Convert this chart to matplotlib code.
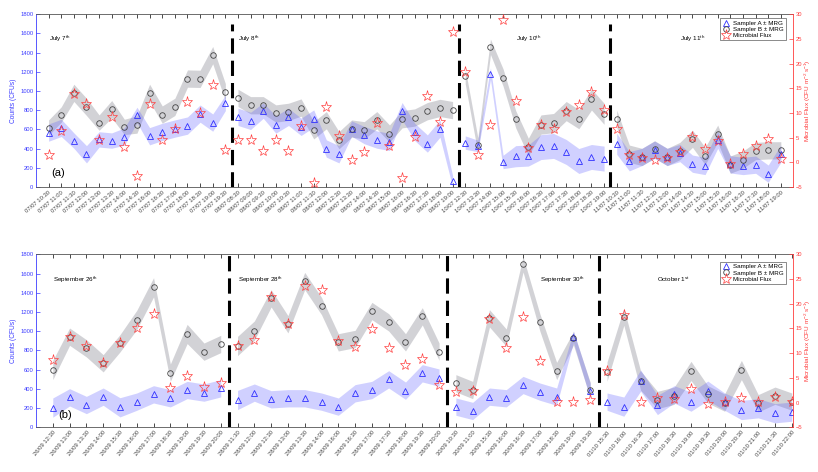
import numpy as np
import matplotlib.pyplot as plt
from matplotlib.lines import Line2D

plt.rcParams['font.family'] = ['Liberation Sans', 'DejaVu Sans']
plt.rcParams['mathtext.default'] = 'regular'

BLUE = '#3c3cff'
RED = '#ff3c3c'

# ---- panel (a): July campaign ----
dates_a = ['07/07', '08/07', '10/07', '11/07']
times_a = [
    ['10:30', '11:00', '11:30', '12:00', '13:00', '13:30', '14:00', '14:30', '16:00', '16:30',
     '17:00', '18:00', '18:30', '19:00', '19:30'],
    ['08:30', '09:00', '09:30', '10:00', '10:30', '11:00', '11:30', '12:00', '12:30', '13:30',
     '14:00', '14:30', '15:00', '16:00', '16:30', '17:30', '18:00', '19:00'],
    ['12:30', '13:30', '14:00', '15:00', '15:30', '16:00', '16:30', '17:00', '17:30', '18:00',
     '18:30', '19:00'],
    ['10:30', '11:00', '11:30', '12:30', '13:00', '14:00', '14:30', '15:00', '15:30', '16:00',
     '16:30', '17:30', '18:00', '19:00'],
]
day_names_a = ['July 7$^{th}$', 'July 8$^{th}$', 'July 10$^{th}$', 'July 11$^{th}$']

sampler_a_a = [566, 615, 483, 340, 495, 483, 525, 750, 528, 573, 608, 639, 764, 670, 875,
               730, 688, 795, 650, 730, 626, 712, 400, 340, 608, 540, 493, 469, 789, 573, 452, 608, 59,
               462, 427, 1180, 260, 320, 327, 415, 427, 364, 270, 312, 295,
               450, 267, 312, 388, 312, 353, 242, 218, 492, 235, 218, 232, 138, 346]
mrg_a_a = [90, 90, 80, 90, 80, 80, 90, 80, 90, 90, 90, 90, 90, 90, 80,
           90, 90, 80, 90, 90, 90, 90, 90, 90, 80, 90, 90, 90, 90, 90, 90, 90, 60,
           70, 60, 60, 70, 110, 110, 130, 130, 130, 130, 130, 130,
           110, 100, 90, 90, 90, 90, 90, 90, 90, 90, 90, 90, 90, 90]
sampler_b_a = [618, 754, 980, 834, 670, 810, 625, 650, 980, 754, 834, 1129, 1126, 1373, 987,
               928, 851, 851, 765, 782, 827, 590, 695, 487, 608, 590, 695, 556, 705, 723, 789, 823, 800,
               1154, 434, 1460, 1140, 705, 417, 650, 665, 790, 706, 911, 762,
               710, 346, 312, 391, 312, 374, 502, 322, 554, 232, 284, 374, 381, 381]
mrg_b_a = [80, 80, 90, 90, 80, 90, 80, 90, 90, 90, 90, 90, 90, 90, 90,
           90, 90, 90, 90, 90, 90, 90, 90, 90, 90, 90, 90, 90, 90, 90, 90, 90, 90,
           80, 80, 80, 90, 90, 90, 100, 100, 100, 100, 110, 110,
           90, 90, 90, 90, 90, 90, 90, 90, 90, 90, 90, 90, 90, 90]
flux_a = [1.55, 6.3, 13.9, 11.7, 4.6, 9.2, 3.1, -2.8, 11.7, 4.6, 6.8, 12.2, 9.9, 15.6, 2.4,
          4.6, 4.6, 2.3, 4.5, 2.3, 7.3, -4.2, 11.1, 5.3, 0.5, 2.0, 8.0, 3.2, -3.1, 5.1, 13.4, 8.2, 26.4,
          18.3, 1.55, 7.5, 28.8, 12.4, 2.8, 7.6, 6.8, 10.2, 11.6, 14.2, 10.5,
          6.8, 1.4, 0.85, 0.4, 0.85, 2.1, 5.2, 2.7, 4.4, -0.4, 1.6, 3.2, 4.8, 0.7]

# ---- panel (b): September / October campaign ----
dates_b = ['26/09', '28/09', '30/09', '01/10']
times_b = [
    ['12:30', '13:00', '13:30', '14:00', '15:30', '16:00', '17:00', '18:30', '19:00', '19:30', '20:00'],
    ['11:30', '12:00', '12:30', '13:00', '13:30', '14:00', '16:00', '16:30', '17:00', '17:30',
     '18:00', '19:30', '20:00'],
    ['10:30', '11:00', '15:30', '16:00', '16:30', '17:00', '18:30', '19:00', '19:30'],
    ['15:30', '16:00', '16:30', '17:00', '18:30', '19:00', '19:30', '20:00', '20:30', '21:00',
     '21:30', '22:00'],
]
day_names_b = ['September 26$^{th}$', 'September 28$^{th}$', 'September 30$^{th}$', 'October 1$^{st}$']

sampler_a_b = [205, 312, 232, 319, 208, 267, 343, 302, 388, 361, 406,
               284, 361, 291, 302, 302, 267, 215, 354, 388, 499, 381, 562, 517,
               215, 170, 319, 302, 440, 371, 319, 943, 378,
               267, 215, 486, 232, 343, 267, 381, 267, 180, 198, 146, 163]
mrg_a_b = [100, 90, 90, 90, 100, 90, 90, 90, 90, 90, 90,
           100, 90, 90, 90, 90, 90, 90, 90, 90, 90, 90, 90, 90,
           90, 90, 90, 90, 90, 90, 90, 60, 80,
           90, 100, 110, 100, 90, 100, 100, 90, 100, 100, 100, 100]
sampler_b_b = [596, 943, 822, 666, 874, 1117, 1457, 569, 971, 787, 867,
               846, 1006, 1342, 1072, 1522, 1262, 884, 919, 1210, 1092, 884, 1155, 787,
               458, 388, 1134, 933, 1696, 1092, 586, 926, 388,
               579, 1151, 486, 284, 329, 586, 343, 257, 596, 250, 329, 267]
mrg_b_b = [100, 90, 90, 90, 90, 100, 100, 90, 100, 90, 90,
           100, 100, 90, 90, 90, 90, 90, 90, 90, 90, 90, 90, 90,
           90, 90, 90, 90, 80, 90, 90, 70, 80,
           100, 90, 100, 90, 90, 100, 90, 90, 100, 90, 90, 90]
flux_b = [8.7, 13.3, 11.4, 8.0, 12.0, 15.0, 17.9, 2.9, 5.4, 3.2, 4.0,
          11.5, 12.7, 21.4, 15.8, 23.5, 22.8, 12.5, 11.3, 14.8, 11.0, 7.6, 8.8, 3.6,
          2.2, 2.4, 17.0, 11.0, 17.4, 8.5, 0.2, 0.2, 0.5,
          6.3, 17.7, 0.2, 0.9, 0.7, 2.8, -0.35, 0.2, 0.9, 0.2, 1.2, 0.2]


def draw_panel(ax, dates, times, a, a_mrg, b, b_mrg, flux, day_names, name_x, name_y,
               letter, letter_xy, xmax, rot, vline_top, legend_y):
    a = np.array(a, float)
    b = np.array(b, float)
    a_mrg = np.array(a_mrg, float)
    b_mrg = np.array(b_mrg, float)
    n = len(a)
    x = np.arange(1, n + 1)
    sizes = [len(t) for t in times]
    edges = np.cumsum([0] + sizes)

    # bands are drawn per day, they do not join across days
    for i in range(len(sizes)):
        s = slice(edges[i], edges[i + 1])
        ax.fill_between(x[s], b[s] - b_mrg[s], b[s] + b_mrg[s],
                        color=(0.5, 0.5, 0.55), alpha=0.35, lw=0)
        ax.fill_between(x[s], a[s] - a_mrg[s], a[s] + a_mrg[s],
                        color=(0.35, 0.35, 1.0), alpha=0.28, lw=0)

    ax.plot(x, a, ls='none', marker='^', ms=4.2, mfc='none', mec='#3030ff', mew=0.6, zorder=3)
    ax.plot(x, b, ls='none', marker='o', ms=4.0, mfc='none', mec='#444444', mew=0.6, zorder=3)

    for e in edges[1:-1]:
        ax.vlines(e + 0.5, 0, vline_top, colors='k', lw=2.2, linestyles=(0, (5, 2.3)), zorder=4)

    ax.set_xlim(0, xmax)
    ax.set_ylim(0, 1800)
    ax.set_yticks(range(0, 1801, 200))
    labels = [d + ' ' + t for d, tt in zip(dates, times) for t in tt]
    ax.set_xticks(x)
    ax.set_xticklabels(labels, rotation=rot, ha='right', rotation_mode='anchor',
                       fontsize=4.2, color='#444444')
    ax.tick_params(axis='x', direction='in', top=True, length=3, width=0.5, pad=2)
    ax.tick_params(axis='y', direction='in', length=3, width=0.5, labelsize=4.2,
                   colors=BLUE, pad=2)
    ax.set_ylabel('Counts (CFUs)', color=BLUE, fontsize=4.8, labelpad=2)
    for sp in ['top', 'bottom']:
        ax.spines[sp].set_color('#555555')
        ax.spines[sp].set_linewidth(0.6)
    ax.spines['left'].set_color(BLUE)
    ax.spines['left'].set_linewidth(0.6)
    ax.spines['right'].set_visible(False)

    for nm, nx in zip(day_names, name_x):
        ax.text(nx, name_y, nm, fontsize=4.5, va='center', ha='left')
    ax.text(letter_xy[0], letter_xy[1], letter, fontsize=8, va='center', ha='left')

    ax2 = ax.twinx()
    ax2.plot(x, flux, ls='none', marker='*', ms=8, mfc='none', mec='#ff4040', mew=0.5, zorder=5)
    ax2.set_ylim(-5, 30)
    ax2.set_yticks(range(-5, 31, 5))
    ax2.tick_params(axis='y', direction='in', length=3, width=0.5, labelsize=4.2,
                    colors=RED, pad=1.5)
    ax2.set_ylabel('Microbial Flux (CFU m$^{-2}$ s$^{-1}$)', color=RED, fontsize=4.6, labelpad=0.5)
    for sp in ['top', 'bottom', 'left']:
        ax2.spines[sp].set_visible(False)
    ax2.spines['right'].set_color(RED)
    ax2.spines['right'].set_linewidth(0.6)

    handles = [
        Line2D([], [], ls='none', marker='^', ms=4.2, mfc='none', mec='#3030ff', mew=0.6),
        Line2D([], [], ls='none', marker='o', ms=4.0, mfc='none', mec='#444444', mew=0.6),
        Line2D([], [], ls='none', marker='*', ms=8, mfc='none', mec='#ff4040', mew=0.5),
    ]
    leg = ax2.legend(handles, ['Sampler A \u00b1 MRG', 'Sampler B \u00b1 MRG', 'Microbial Flux'],
                     loc='upper right', bbox_to_anchor=(0.99, legend_y), fontsize=4.5,
                     frameon=True, fancybox=False, borderpad=0.3, labelspacing=0.15,
                     handlelength=1.2, handletextpad=0.6, borderaxespad=0)
    leg.get_frame().set_edgecolor('#333333')
    leg.get_frame().set_linewidth(0.5)
    return ax2


fig = plt.figure(figsize=(8.18, 4.72), dpi=100)
ax_a = fig.add_axes([0.044, 0.604, 0.926, 0.366])
ax_b = fig.add_axes([0.044, 0.0947, 0.926, 0.3665])

draw_panel(ax_a, dates_a, times_a, sampler_a_a, mrg_a_a, sampler_b_a, mrg_b_a, flux_a,
           day_names_a, [1.0, 16.0, 38.0, 51.0], 1540, '(a)', (1.2, 150), 60, 40, 1700, 0.975)
draw_panel(ax_b, dates_b, times_b, sampler_a_b, mrg_a_b, sampler_b_b, mrg_b_b, flux_b,
           day_names_b, [1.0, 12.0, 30.0, 37.0], 1535, '(b)', (1.35, 130), 45.1, 50, 1800, 0.955)

fig.savefig('out.png', dpi=100)
